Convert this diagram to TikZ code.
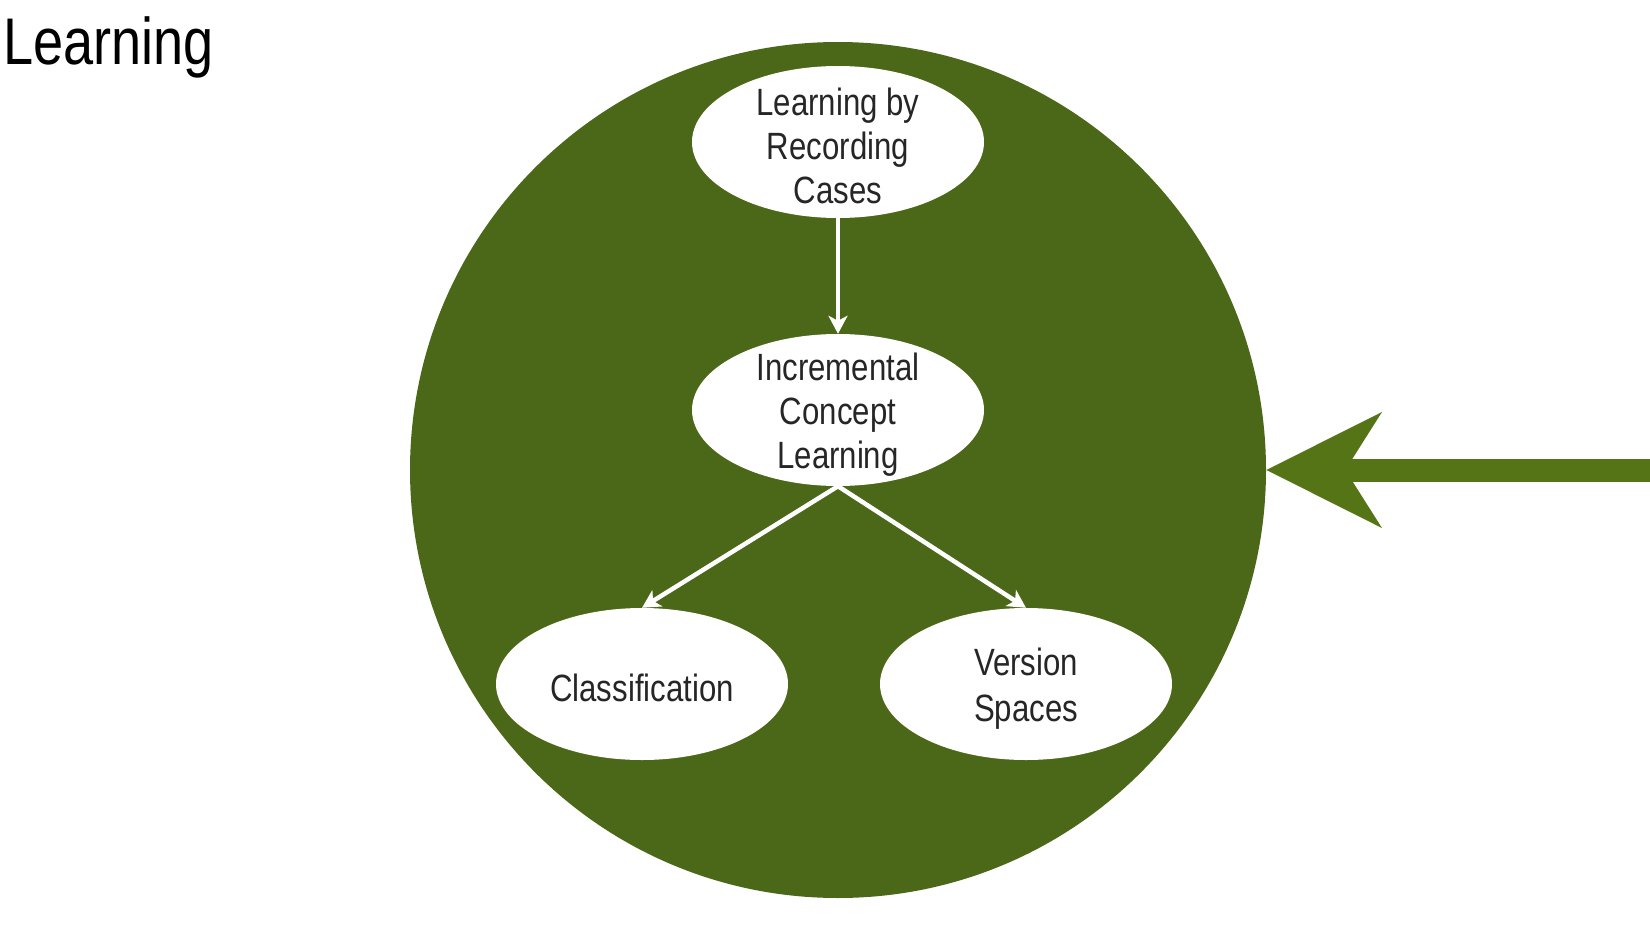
\documentclass[tikz,border=0pt]{standalone}
\usepackage{fontspec}
\newfontfamily\diagfont[FakeStretch=0.82]{Liberation Sans}
\usetikzlibrary{shapes.geometric,arrows.meta,positioning}
\definecolor{leafgreen}{RGB}{74,104,23}
\definecolor{arrowgreen}{RGB}{84,116,22}
\newcommand{\topstrut}{\rule{0pt}{36pt}}

\begin{document}
\begin{tikzpicture}[
      x=1pt, y=-1pt,
      world/.style={circle, fill=leafgreen, minimum size=856pt, inner sep=0pt},
      topic/.style={ellipse, fill=white, minimum width=292pt, minimum height=152pt,
                    inner xsep=0pt, inner ysep=-16pt, align=center,
                    font=\diagfont\fontsize{38}{44}\selectfont, text=black!85},
      flow/.style={white, line width=4.5pt, -{Stealth[length=18pt 0, width=19pt 0, inset=5pt 0]}},
      feed/.style={arrowgreen, line width=23pt, -{Stealth[length=114pt 0, width=113pt 0, inset=35pt 0]}}
    ]
    \useasboundingbox (0,0) rectangle (1650,926);
    \node[anchor=base west, inner sep=0pt, font=\diagfont\fontsize{66}{70}\selectfont] (title) at (3,64) {Learning};
    \node[world] (world) at (838,470) {};
    \node[topic] (cases) at (838,142) {\topstrut Learning by\\Recording\\Cases};
    \node[topic] (incr) at (838,410) {\topstrut Incremental\\Concept\\Learning};
    \node[topic] (classif) at (642,684) {\topstrut Classification};
    \node[topic] (vspace) at (1026,684) {\topstrut Version\\[2pt]Spaces};
    \draw[flow] (cases.south) -- (incr.north);
    \foreach \gdst in {classif,vspace}{%
      \draw[flow] (incr.south) -- (\gdst.north);
    }
    \coordinate (feedsrc) at (1650,470);
    \draw[feed] (feedsrc) -- (world.east);
  \end{tikzpicture}
\end{document}
